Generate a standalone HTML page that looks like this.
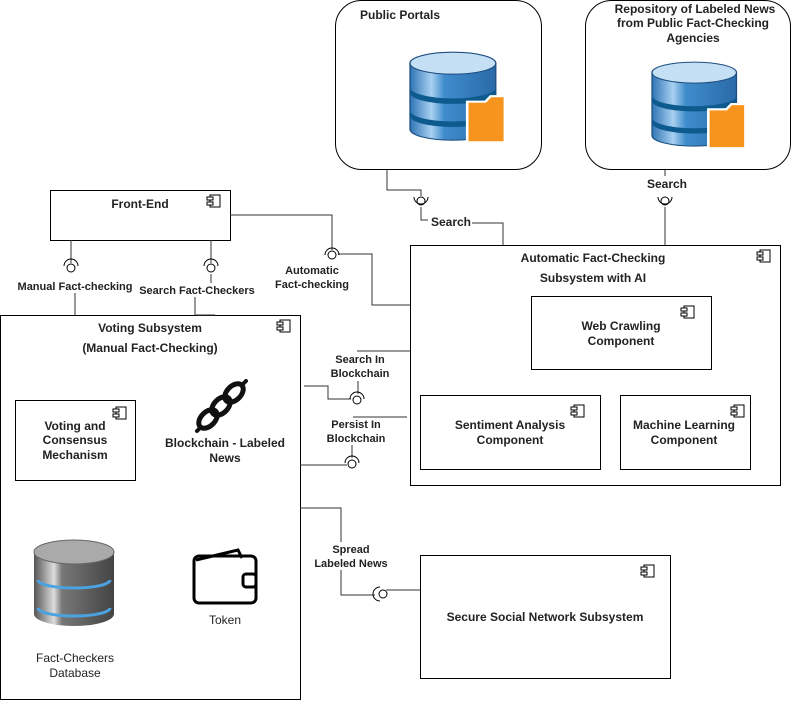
<!DOCTYPE html>
<html><head><meta charset="utf-8"><style>
body{margin:0;background:#fff}
svg{display:block;font-family:"Liberation Sans",Arial,sans-serif;font-size:12px}
.b{font-weight:bold;fill:#222}
</style></head><body>
<svg width="791" height="701" viewBox="0 0 791 701" xmlns="http://www.w3.org/2000/svg">
<defs>
<linearGradient id="bl" x1="0" x2="1"><stop offset="0" stop-color="#2f74b5"/><stop offset="0.25" stop-color="#a8d0f0"/><stop offset="0.4" stop-color="#3f8ccc"/><stop offset="1" stop-color="#2a6aa8"/></linearGradient>
<linearGradient id="gr" x1="0" x2="1"><stop offset="0" stop-color="#555"/><stop offset="0.25" stop-color="#ddd"/><stop offset="0.35" stop-color="#777"/><stop offset="1" stop-color="#444"/></linearGradient>
<g id="cic"><rect x="0" y="0" width="10" height="12" fill="#fff" stroke="#000"/><rect x="-3" y="2" width="6" height="3" fill="#fff" stroke="#000"/><rect x="-3" y="7" width="6" height="3" fill="#fff" stroke="#000"/></g>
<g id="db">
<path d="M0 12 v60 a33 10 0 0 0 66 0 v-60z" fill="url(#bl)" stroke="#1f4f80"/>
<ellipse cx="33" cy="12" rx="33" ry="10" fill="#c5e0f5" stroke="#1f4f80"/>
<path d="M0 34 a33 10 0 0 0 66 0 v5 a33 10 0 0 1 -66 0z" fill="#0d5a8e"/>
<path d="M0 55 a33 10 0 0 0 66 0 v5 a33 10 0 0 1 -66 0z" fill="#0d5a8e"/>
<path d="M44 47 h14 l4 -5 h11 v42 h-29z" fill="#f7941d" stroke="#fff" stroke-width="2"/>
</g>
</defs>
<g fill="none" stroke="#000" stroke-width="1">
<rect x="335.5" y="0.5" width="206" height="169" rx="26"/>
<rect x="585.5" y="0.5" width="205" height="169" rx="26"/>
<rect x="50.5" y="190.5" width="180" height="50"/>
<rect x="410.5" y="245.5" width="370" height="240"/>
<rect x="531.5" y="296.5" width="180" height="73"/>
<rect x="420.5" y="395.5" width="180" height="74"/>
<rect x="620.5" y="395.5" width="130" height="74"/>
<rect x="0.5" y="315.5" width="300" height="384"/>
<rect x="15.5" y="400.5" width="120" height="80"/>
<rect x="420.5" y="555.5" width="250" height="123"/>
</g>
<use href="#cic" x="210" y="195"/><use href="#cic" x="760" y="250"/><use href="#cic" x="684" y="306"/>
<use href="#cic" x="574" y="405"/><use href="#cic" x="734" y="405"/><use href="#cic" x="280" y="320"/>
<use href="#cic" x="116" y="407"/><use href="#cic" x="644" y="565"/>
<g fill="none" stroke="#333" stroke-width="1">
<path d="M387 170 V190 H421 V196"/><path d="M421 207 V220 H428"/><path d="M472 223 H503 V245"/>
<path d="M665 170 V176"/><path d="M665 207 V245"/>
<path d="M230 215 H332 V250"/><path d="M338 254 H372 V305 H410"/>
<path d="M71 240 V263"/><path d="M75 293 V315"/>
<path d="M211 240 V263"/><path d="M211 274 V283"/><path d="M195 297 V315 H215"/>
<path d="M304 386 H328 V399 H351"/><path d="M358 394 V381"/><path d="M357 351 H410"/>
<path d="M300 465 H347"/><path d="M352 458 V445"/><path d="M353 417 H407"/>
<path d="M300 508 H341 V542"/><path d="M341 570 V595 H375"/><path d="M386 590 H420"/>
</g>
<g fill="#fff" stroke="#000">
<circle cx="421" cy="201" r="4"/><path d="M414 197 a7 7 0 0 0 14 0" fill="none"/>
<circle cx="665" cy="201" r="4"/><path d="M658 197 a7 7 0 0 0 14 0" fill="none"/>
<circle cx="332" cy="255" r="4"/><path d="M325 255 a7 7 0 0 1 14 0" fill="none"/>
<circle cx="71" cy="268" r="4"/><path d="M64 266 a7 7 0 0 1 14 0" fill="none"/>
<circle cx="211" cy="268" r="4"/><path d="M204 266 a7 7 0 0 1 14 0" fill="none"/>
<circle cx="357" cy="400" r="4"/><path d="M350 399 a7 7 0 0 1 14 0" fill="none"/>
<circle cx="352" cy="464" r="4"/><path d="M345 463 a7 7 0 0 1 14 0" fill="none"/>
<circle cx="383" cy="594" r="4"/><path d="M380 587 a7 7 0 0 0 0 14" fill="none"/>
</g>
<use href="#db" transform="translate(410 50) scale(1.3 1.1)"/><use href="#db" transform="translate(652 60) scale(1.28 1.05)"/>
<g>
<path d="M34 552 v62 a40 12 0 0 0 80 0 v-62z" fill="url(#gr)"/>
<ellipse cx="74" cy="552" rx="40" ry="12" fill="#aaa" stroke="#666"/>
<path d="M38 580 a36 8 0 0 0 72 0" stroke="#4aa3e0" stroke-width="3" fill="none"/>
<path d="M38 608 a36 8 0 0 0 72 0" stroke="#4aa3e0" stroke-width="3" fill="none"/>
</g>
<g stroke="#111" fill="none" stroke-linecap="round">
<ellipse cx="208" cy="419" rx="11" ry="7" transform="rotate(-45 208 419)" stroke-width="5"/>
<ellipse cx="221" cy="406" rx="11" ry="7" transform="rotate(-45 221 406)" stroke-width="5"/>
<ellipse cx="234" cy="393" rx="11" ry="7" transform="rotate(-45 234 393)" stroke-width="5"/>
<path d="M200 428 l-3 3 M243 384 l3 -3" stroke-width="4"/>
</g>
<g stroke="#000" stroke-width="3" fill="none">
<rect x="194" y="556" width="62" height="47" rx="5"/><path d="M196 560 l42 -10 l4 8"/>
<rect x="243" y="574" width="13" height="13" rx="3"/>
</g>
<g class="b" text-anchor="middle">
<text x="360" y="19" text-anchor="start">Public Portals</text>
<text x="695" y="13">Repository of Labeled News</text>
<text x="693" y="27">from Public Fact-Checking</text>
<text x="693" y="42">Agencies</text>
<text x="140" y="208">Front-End</text>
<text x="451" y="226">Search</text>
<text x="667" y="188">Search</text>
<text x="593" y="262">Automatic Fact-Checking</text>
<text x="593" y="282">Subsystem with AI</text>
<text x="621" y="330">Web Crawling</text><text x="621" y="345">Component</text>
<text x="510" y="429">Sentiment Analysis</text><text x="510" y="444">Component</text>
<text x="684" y="429">Machine Learning</text><text x="684" y="444">Component</text>
<text x="312" y="274" font-size="11">Automatic</text><text x="312" y="288" font-size="11">Fact-checking</text>
<text x="75" y="290" font-size="11">Manual Fact-checking</text>
<text x="197" y="294" font-size="11">Search Fact-Checkers</text>
<text x="150" y="332">Voting Subsystem</text>
<text x="150" y="352">(Manual Fact-Checking)</text>
<text x="360" y="363" font-size="11">Search In</text><text x="360" y="377" font-size="11">Blockchain</text>
<text x="356" y="428" font-size="11">Persist In</text><text x="356" y="442" font-size="11">Blockchain</text>
<text x="75" y="430">Voting and</text><text x="75" y="444">Consensus</text><text x="75" y="459">Mechanism</text>
<text x="225" y="447">Blockchain - Labeled</text><text x="225" y="462">News</text>
<text x="351" y="553" font-size="11">Spread</text><text x="351" y="567" font-size="11">Labeled News</text>
<text x="545" y="621">Secure Social Network Subsystem</text>
<text x="75" y="662" style="font-weight:normal">Fact-Checkers</text><text x="75" y="677" style="font-weight:normal">Database</text>
<text x="225" y="624" style="font-weight:normal">Token</text>
</g>
</svg>
</body></html>
